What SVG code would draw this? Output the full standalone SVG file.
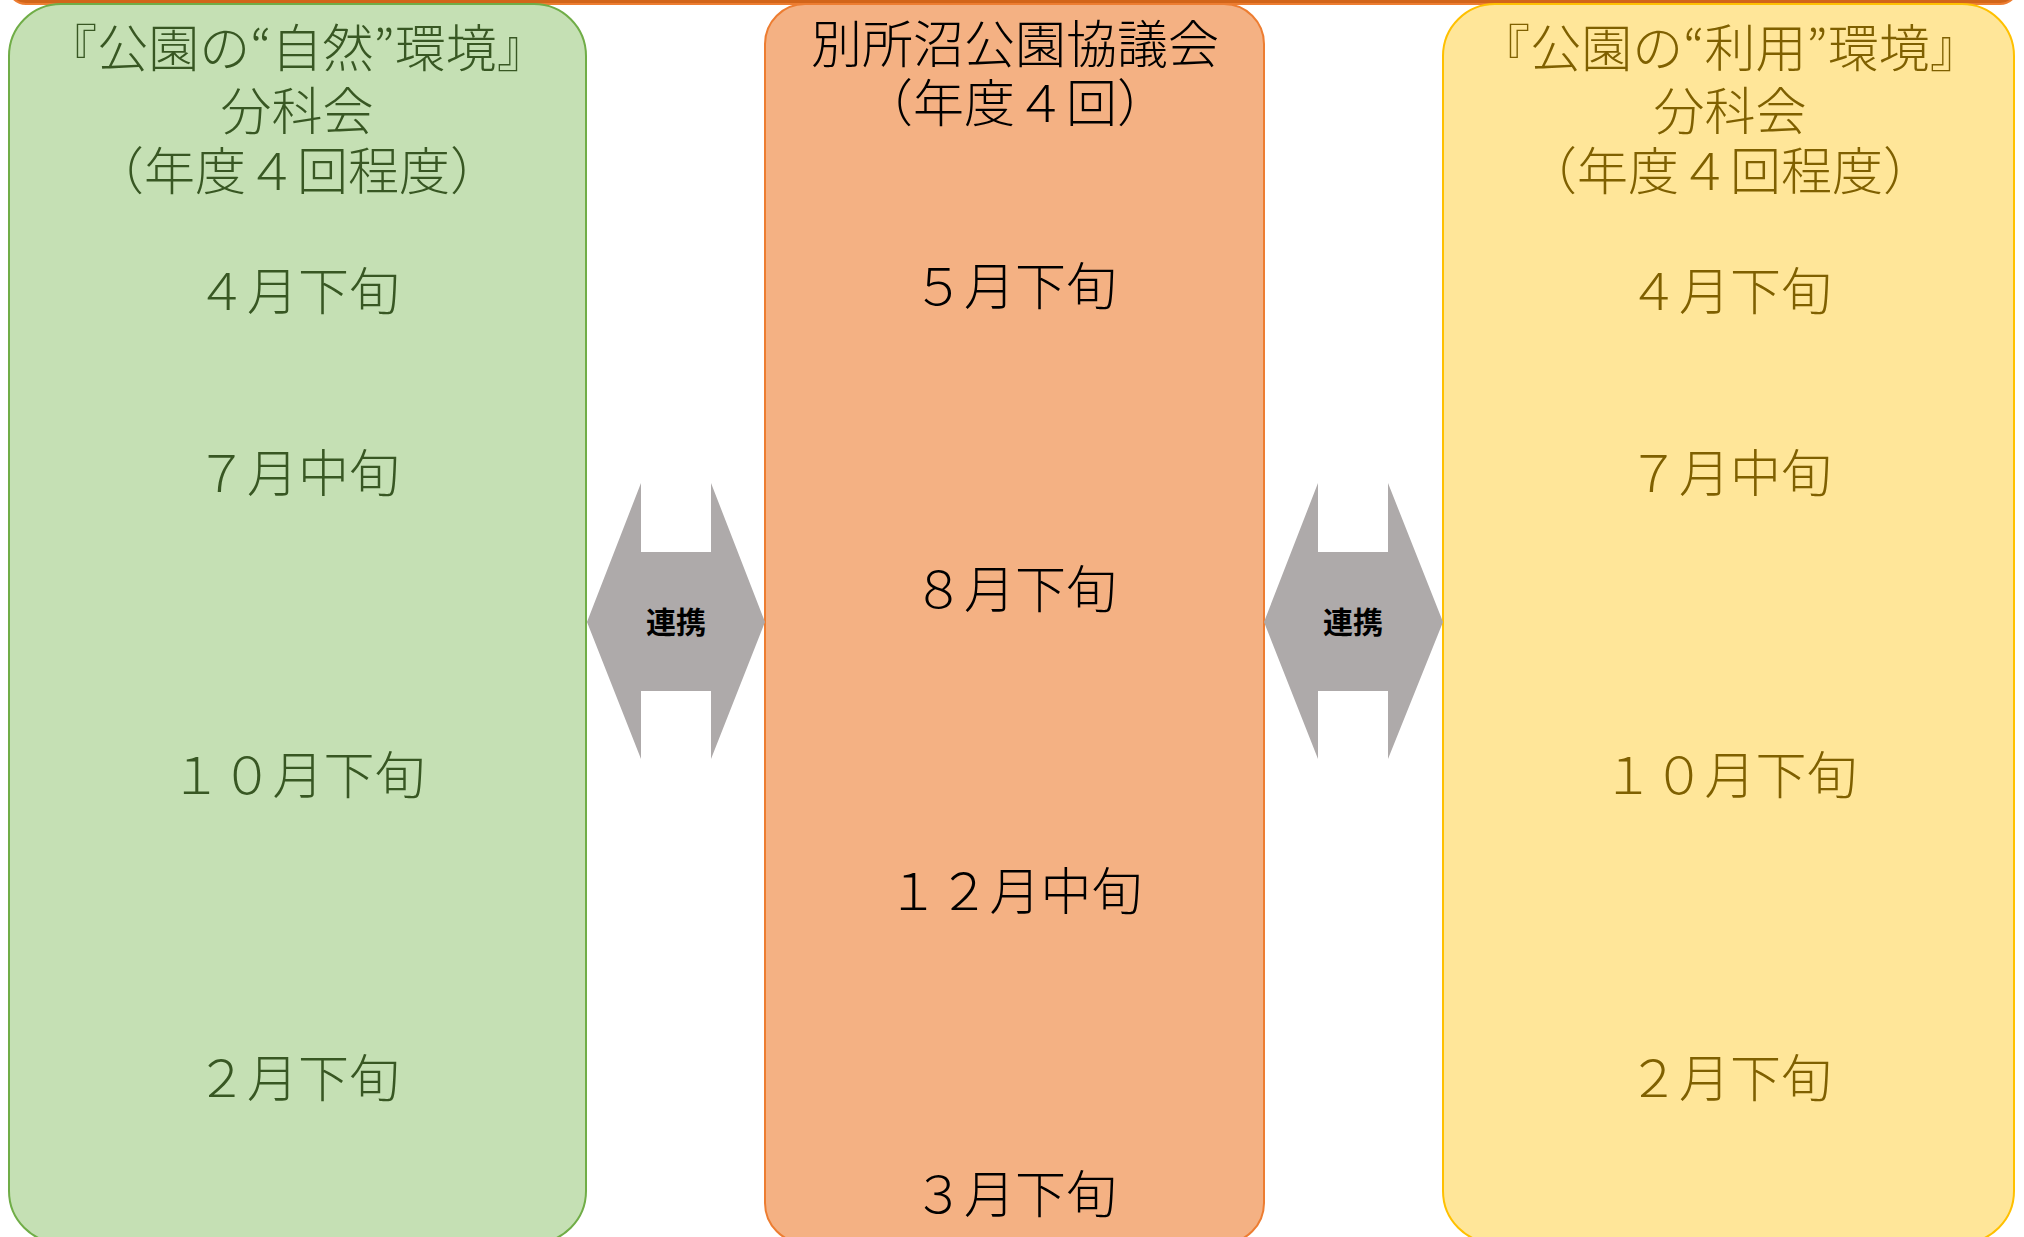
<svg xmlns="http://www.w3.org/2000/svg" width="2024" height="1237" viewBox="0 0 2024 1237">
<style>
text{font-family:"Noto Sans CJK JP","Noto Sans CJK SC",sans-serif;text-anchor:middle;font-weight:300}
.t{font-size:51px}
.g{fill:#385723}
.o{fill:#000000}
.y{fill:#7F6000}
.lbl{font-size:30px;font-weight:700;fill:#000}
.arrow{fill:#AEAAAA}
</style>
<rect x="8" y="-40" width="2010" height="44" rx="18" fill="#D2651A" stroke="#ED7D31" stroke-width="2"/>
<g id="node-nature">
<rect x="9" y="4" width="577" height="1239" rx="52" fill="#C5E0B4" stroke="#70AD47" stroke-width="2"/>
<text class="t g" x="297" y="67">『公園の“自然”環境』</text>
<text class="t g" x="297" y="130">分科会</text>
<text class="t g" x="297" y="190">（年度４回程度）</text>
<text class="t g" x="298" y="310">４月下旬</text>
<text class="t g" x="298" y="492">７月中旬</text>
<text class="t g" x="298" y="794">１０月下旬</text>
<text class="t g" x="298" y="1097">２月下旬</text>
</g>
<g id="node-council">
<rect x="765" y="4" width="499" height="1239" rx="40" fill="#F4B183" stroke="#ED7D31" stroke-width="2"/>
<text class="t o" x="1015" y="63">別所沼公園協議会</text>
<text class="t o" x="1015" y="122">（年度４回）</text>
<text class="t o" x="1015" y="305">５月下旬</text>
<text class="t o" x="1015" y="608">８月下旬</text>
<text class="t o" x="1015" y="910">１２月中旬</text>
<text class="t o" x="1015" y="1213">３月下旬</text>
</g>
<g id="node-use">
<rect x="1443" y="4" width="571" height="1239" rx="52" fill="#FFE699" stroke="#FFC000" stroke-width="2"/>
<text class="t y" x="1730" y="67">『公園の“利用”環境』</text>
<text class="t y" x="1730" y="130">分科会</text>
<text class="t y" x="1730" y="190">（年度４回程度）</text>
<text class="t y" x="1730" y="310">４月下旬</text>
<text class="t y" x="1730" y="492">７月中旬</text>
<text class="t y" x="1730" y="794">１０月下旬</text>
<text class="t y" x="1730" y="1097">２月下旬</text>
</g>
<g id="connectors">
<g id="link-left">
<polygon class="arrow" points="587,622 641,483 641,552 711,552 711,483 765,622 711,759 711,691 641,691 641,759"/>
<text class="lbl" x="676" y="633">連携</text>
</g>
<g id="link-right">
<polygon class="arrow" points="1264,622 1318,483 1318,552 1388,552 1388,483 1443,622 1388,759 1388,691 1318,691 1318,759"/>
<text class="lbl" x="1353" y="633">連携</text>
</g>
</g>
</svg>
